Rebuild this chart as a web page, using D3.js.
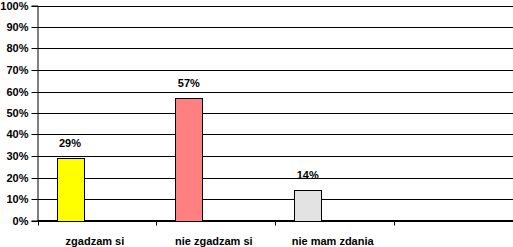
<!DOCTYPE html>
<html>
<head>
<meta charset="utf-8">
<script src="https://cdn.jsdelivr.net/npm/d3@7"></script>
<style>
  body { margin: 0; background: #fff; }
  svg { display: block; font-family: "Liberation Sans", Arial, sans-serif; font-weight: bold; }
</style>
</head>
<body>
<svg id="chart" width="513" height="247"></svg>
<script>
const categories = ['zgadzam si', 'nie zgadzam si', 'nie mam zdania', ''];
const values = [29, 57, 14, null];
const colors = ['#ffff00', '#ff8080', '#e3e3e3'];
const yTicks = [0, 10, 20, 30, 40, 50, 60, 70, 80, 90, 100];

const svg = d3.select('#chart');
const mLeft = 37.5, mRight = 513, mTop = 5.5, mBottom = 220.5;

const x = d3.scaleBand()
    .domain(categories)
    .range([mLeft, mRight])
    .paddingInner(0)
    .paddingOuter(0);

const y = d3.scaleLinear()
    .domain([0, 100])
    .range([mBottom, mTop]);

// gridlines
svg.append('g')
    .selectAll('line')
    .data(yTicks)
    .enter()
    .append('line')
    .attr('x1', mLeft)
    .attr('x2', mRight)
    .attr('y1', d => Math.round(y(d)) + 0.5)
    .attr('y2', d => Math.round(y(d)) + 0.5)
    .attr('stroke', '#000');

// y axis
const yAxis = svg.append('g')
    .attr('transform', `translate(${mLeft},0)`)
    .call(d3.axisLeft(y).tickValues(yTicks).tickFormat(d => d + '%').tickSize(6).tickPadding(3));
yAxis.select('.domain').attr('stroke', '#000');
yAxis.selectAll('.tick')
    .attr('transform', d => `translate(0,${Math.round(y(d)) + 0.5})`);
yAxis.selectAll('.tick text')
    .attr('font-size', 11).attr('font-family', null).attr('fill', '#000').attr('dy', '0.36em');

// x axis
const xAxis = svg.append('g')
    .attr('transform', `translate(0,${mBottom})`);
xAxis.append('line')
    .attr('x1', mLeft).attr('x2', mRight).attr('stroke', '#000');
xAxis.selectAll('line.tk')
    .data(categories.map(c => x(c)).concat([mRight - 0.5]))
    .enter()
    .append('line')
    .attr('class', 'tk')
    .attr('x1', d => Math.round(d) + 0.5)
    .attr('x2', d => Math.round(d) + 0.5)
    .attr('y1', 0)
    .attr('y2', 5)
    .attr('stroke', '#000');
xAxis.selectAll('text')
    .data(categories)
    .enter()
    .append('text')
    .attr('x', d => x(d) + x.bandwidth() / 2 - 2)
    .attr('y', 24)
    .attr('text-anchor', 'middle')
    .attr('font-size', 11)
    .text(d => d);

// bars
const barW = 27;
const barOff = 19;
const bars = categories.map((c, i) => ({ c, v: values[i], col: colors[i] })).filter(d => d.v != null);

svg.append('g')
    .selectAll('rect')
    .data(bars)
    .enter()
    .append('rect')
    .attr('x', d => Math.round(x(d.c) + barOff) + 0.5)
    .attr('y', d => Math.round(y(d.v)) + 0.5)
    .attr('width', barW)
    .attr('height', d => Math.round(y(0)) - Math.round(y(d.v)))
    .attr('fill', d => d.col)
    .attr('stroke', '#000');

svg.append('g')
    .selectAll('text')
    .data(bars)
    .enter()
    .append('text')
    .attr('x', d => x(d.c) + barOff + barW / 2)
    .attr('y', d => y(d.v) - 11)
    .attr('text-anchor', 'middle')
    .attr('font-size', 11)
    .text(d => d.v + '%');
</script>
</body>
</html>
